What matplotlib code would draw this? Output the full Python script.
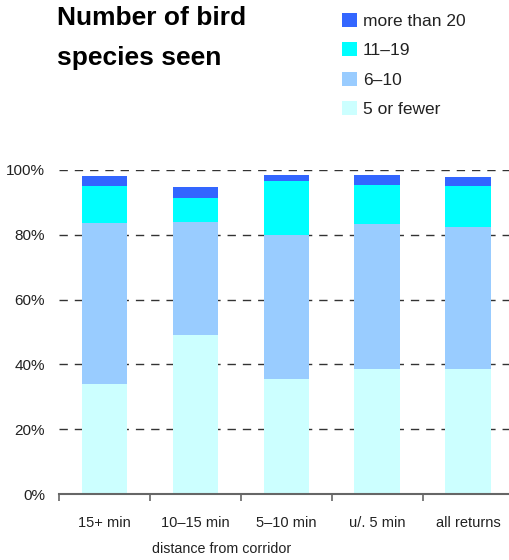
import matplotlib
matplotlib.use("Agg")
import matplotlib.pyplot as plt
import numpy as np

plt.rcParams['font.family'] = ['Liberation Sans', 'DejaVu Sans']

categories = ["15+ min", "10\u201315 min", "5\u201310 min", "u/. 5 min", "all returns"]
series_names = ["5 or fewer", "6\u201310", "11\u201319", "more than 20"]
five_or_fewer = [34.0, 49.1, 35.5, 38.6, 38.6]
six_to_ten = [49.6, 34.9, 44.3, 44.8, 43.8]
eleven_to_19 = [11.5, 7.4, 16.8, 12.0, 12.7]
more_than_20 = [3.0, 3.4, 1.9, 3.1, 2.7]
colors = ["#CCFFFF", "#99CCFF", "#00FFFF", "#3366FF"]
yticks = [0, 20, 40, 60, 80, 100]

W, H = 509, 560
fig = plt.figure(figsize=(W / 100, H / 100), dpi=100)
ax = fig.add_axes([59 / W, 1 - 494 / H, (509 - 59) / W, (494 - 170) / H])

x = np.arange(len(categories))
bottom = np.zeros(len(categories))
handles = []
for name, vals, c in zip(series_names, [five_or_fewer, six_to_ten, eleven_to_19, more_than_20], colors):
    b = ax.bar(x, vals, width=0.5, bottom=bottom, color=c, label=name, zorder=2)
    handles.append(b)
    bottom += np.array(vals)

ax.set_xlim(-0.5, 4.45)
ax.set_ylim(0, 100)
ax.set_yticks(yticks)
ax.set_yticklabels([f"{v}%" for v in yticks])
for v in yticks[1:]:
    ax.axhline(v, color="#333333", lw=1.0, ls=(0, (6, 5)), zorder=1)

for s in ["left", "right", "top"]:
    ax.spines[s].set_visible(False)
ax.spines["bottom"].set_color("#666666")
ax.spines["bottom"].set_linewidth(1.5)
ax.spines["bottom"].set_zorder(3)

ax.set_xticks(x)
ax.set_xticklabels(categories)
ax.set_xticks(np.arange(-0.5, 4.0, 1.0), minor=True)
ax.tick_params(axis="x", which="major", length=0, pad=16, labelsize=10.5, labelcolor="#222222")
ax.tick_params(axis="x", which="minor", length=5, width=1.2, color="#666666", direction="out")
ax.tick_params(axis="y", length=0, pad=10, labelsize=11, labelcolor="#222222")

fig.text(222 / W, 1 - 549 / H, "distance from corridor", ha="center", va="center",
         fontsize=10.3, color="#222222")

fig.text(57 / W, 1 - 25 / H, "Number of bird", ha="left", va="baseline",
         fontsize=19, fontweight="bold")
fig.text(57 / W, 1 - 65 / H, "species seen", ha="left", va="baseline",
         fontsize=19, fontweight="bold")

leg = fig.legend(handles=handles[::-1], labels=series_names[::-1],
                 loc="upper left", bbox_to_anchor=(335 / W, 1 - 6 / H),
                 frameon=False, fontsize=12.5, handlelength=0.85, handleheight=0.85,
                 labelspacing=0.78, handletextpad=0.35, borderaxespad=0)
for t in leg.get_texts():
    t.set_color("#222222")

fig.savefig("out.png", dpi=100)
